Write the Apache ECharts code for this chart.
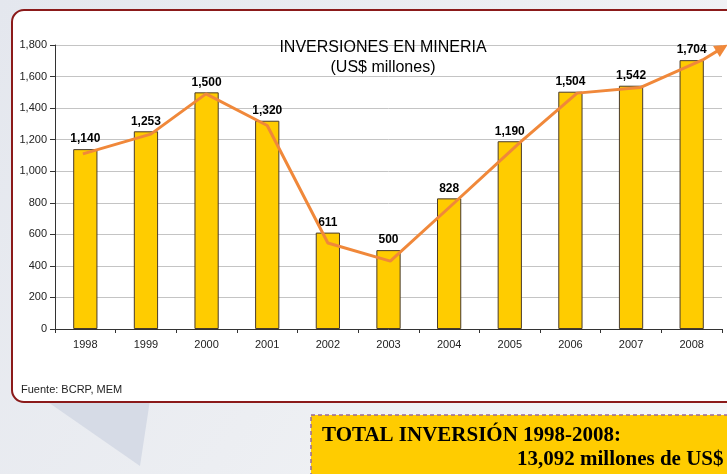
<!DOCTYPE html>
<html>
<head>
<meta charset="utf-8">
<script src="https://cdn.jsdelivr.net/npm/echarts@6/dist/echarts.min.js"></script>
<style>
  html, body { margin: 0; padding: 0; }
  #chart { width: 727px; height: 474px; }
</style>
</head>
<body>
<div id="chart"></div>
<script>
// datos (US$ millones)
var years = ['1998', '1999', '2000', '2001', '2002', '2003', '2004', '2005', '2006', '2007', '2008'];
var inversion = [1140, 1253, 1500, 1320, 611, 500, 828, 1190, 1504, 1542, 1704];
// tendencia (flecha naranja), posicion x en unidades de categoria
var trendX = [0.46, 1.58, 2.49, 3.5, 4.5, 5.53, 6.6, 7.66, 8.61, 9.65, 10.68, 11.0];
var trendY = [1110, 1235, 1490, 1290, 545, 430, 805, 1180, 1495, 1530, 1705, 1780];
var yTicks = [0, 200, 400, 600, 800, 1000, 1200, 1400, 1600, 1800];
var totalTexto = '13,092';

var sans = 'Arial, "Liberation Sans", sans-serif';
var serif = '"Times New Roman", "Liberation Serif", serif';

var trendData = trendX.map(function (x, i) {
    var item = { value: [x, trendY[i]] };
    if (i === trendX.length - 1) {
        item.symbol = 'triangle';
        item.symbolSize = [13, 13];
        item.symbolRotate = -59;
    }
    return item;
});

var chart = echarts.init(document.getElementById('chart'));
chart.setOption({
    animation: false,
    title: {
        text: 'INVERSIONES EN MINERIA\n(US$ millones)',
        left: 378,
        top: 33,
        textAlign: 'center',
        textStyle: {
            fontFamily: sans,
            fontSize: 16,
            fontWeight: 'normal',
            color: '#000',
            lineHeight: 20
        }
    },
    grid: { left: 55, right: 5, top: 45, bottom: 145 },
    xAxis: [
        {
            type: 'category',
            data: years,
            axisLine: { lineStyle: { color: '#333' } },
            axisTick: { show: true, length: 4, lineStyle: { color: '#333' } },
            axisLabel: { fontFamily: sans, fontSize: 11, color: '#222', margin: 10 }
        },
        {
            type: 'value',
            min: 0,
            max: 11,
            show: false
        }
    ],
    yAxis: {
        type: 'value',
        min: yTicks[0],
        max: yTicks[yTicks.length - 1],
        interval: 200,
        axisLine: { show: true, lineStyle: { color: '#333' } },
        axisTick: { show: true, length: 5, lineStyle: { color: '#333' } },
        axisLabel: {
            fontFamily: sans, fontSize: 11, color: '#222', margin: 8,
            formatter: function (v) { return v.toLocaleString('en-US'); }
        },
        splitLine: { lineStyle: { color: '#c4c4c4', width: 1 } }
    },
    series: [
        {
            type: 'bar',
            data: inversion,
            barWidth: '40%',
            itemStyle: { color: '#FFCC00', borderColor: '#4a3b2a', borderWidth: 1 },
            label: {
                show: true,
                position: 'top',
                distance: 4,
                fontFamily: sans,
                fontSize: 12,
                fontWeight: 'bold',
                color: '#000',
                formatter: function (p) { return p.value.toLocaleString('en-US'); }
            },
            z: 2
        },
        {
            type: 'line',
            xAxisIndex: 1,
            data: trendData,
            symbol: 'none',
            showSymbol: true,
            clip: false,
            lineStyle: { color: '#F0883A', width: 3 },
            itemStyle: { color: '#F0883A' },
            z: 3
        }
    ],
    graphic: [
        {
            type: 'rect', z: -20, silent: true,
            shape: { x: 0, y: 0, width: 727, height: 474 },
            style: {
                fill: new echarts.graphic.LinearGradient(0, 0, 1, 1, [
                    { offset: 0, color: '#e4e7ee' },
                    { offset: 0.5, color: '#eceef2' },
                    { offset: 1, color: '#f6f7f9' }
                ])
            }
        },
        {
            type: 'polygon', z: -19, silent: true,
            shape: { points: [[45, 400], [150, 400], [140, 466]] },
            style: { fill: '#d6dbe6' }
        },
        {
            type: 'rect', z: -18, silent: true,
            shape: { x: 12, y: 10, width: 730, height: 392, r: 12 },
            style: { fill: '#ffffff', stroke: '#8b1a1a', lineWidth: 2 }
        },
        {
            type: 'text', z: 5, left: 21, top: 384,
            style: { text: 'Fuente: BCRP, MEM', font: '11px ' + sans, fill: '#222' }
        },
        {
            type: 'rect', z: 5, silent: true,
            shape: { x: 311, y: 415, width: 430, height: 70 },
            style: { fill: '#FFCC00', stroke: '#9a6a98', lineWidth: 1.5, lineDash: [4, 3] }
        },
        {
            type: 'text', z: 6, left: 322, top: 425,
            style: { text: 'TOTAL INVERSIÓN 1998-2008:', font: 'bold 21px ' + serif, fill: '#000' }
        },
        {
            type: 'text', z: 6, left: 517, top: 449,
            style: { text: totalTexto + ' millones de US$', font: 'bold 21px ' + serif, fill: '#000' }
        }
    ]
});
</script>
</body>
</html>
